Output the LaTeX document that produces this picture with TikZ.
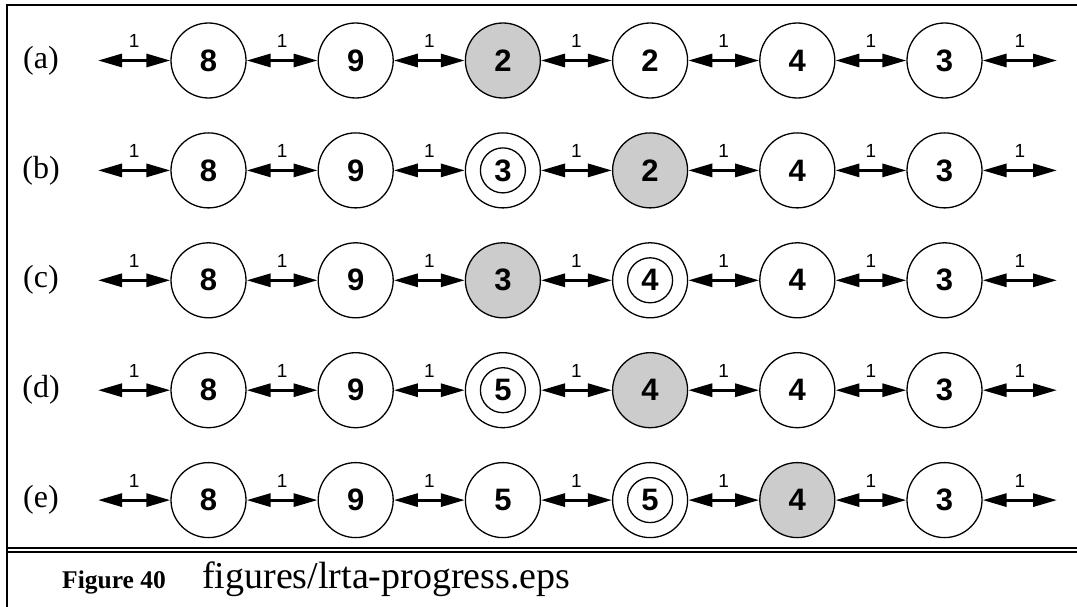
\documentclass[tikz,border=0pt]{standalone}
\usepackage{fontspec}
\setmainfont{Liberation Serif}
\setsansfont{Liberation Sans}
\usetikzlibrary{arrows.meta}
\definecolor{shade}{gray}{0.8}
\tikzset{
  x=1pt,y=-1pt,
  state/.style={circle, draw, line width=1.3pt, minimum size=75pt, inner sep=0pt,
    font=\sffamily\bfseries\fontsize{31}{31}\selectfont},
  kindn/.style={fill=white},
  kindg/.style={fill=shade},
  kindr/.style={fill=white, path picture={\draw[line width=1.3pt] (path picture bounding box.center) circle (22.5pt);}},
  link/.style={line width=3pt, {Triangle[length=24pt,width=13pt]}-{Triangle[length=24pt,width=13pt]}},
  cost/.style={font=\sffamily\fontsize{19}{19}\selectfont, inner sep=0pt, above=11pt, midway},
  rowlab/.style={font=\fontsize{32}{32}\selectfont, inner sep=0pt},
  frame/.style={line width=2pt},
  sep/.style={line width=2.2pt}
}
\begin{document}
\begin{tikzpicture}
\useasboundingbox (0,0) rectangle (1077,607);
\foreach \lab/\row [count=\r from 0] in {
  a/{8/n,9/n,2/g,2/n,4/n,3/n},
  b/{8/n,9/n,3/r,2/g,4/n,3/n},
  c/{8/n,9/n,3/g,4/r,4/n,3/n},
  d/{8/n,9/n,5/r,4/g,4/n,3/n},
  e/{8/n,9/n,5/n,5/r,4/g,3/n}} {
  \pgfmathsetmacro\yy{60.5+109.9*\r}
  \node[rowlab] (lab\r) at (41,\yy) {(\lab)};
  \coordinate (L\r) at (98,\yy);
  \coordinate (R\r) at (1057,\yy);
  \foreach \v/\s [count=\c from 0] in \row {
    \node[state, kind\s] (c\r-\c) at ({208.5+147.2*\c},\yy) {\v};
  }
  \draw[link] (L\r) -- node[cost]{1} (c\r-0);
  \foreach \c in {1,...,5} {
    \pgfmathtruncatemacro\p{\c-1}
    \draw[link] (c\r-\p) -- node[cost]{1} (c\r-\c);
  }
  \draw[link] (c\r-5) -- node[cost]{1} (R\r);
}
\coordinate (tr) at (1077,5);
\coordinate (tl) at (7,5);
\coordinate (bl) at (7,607);
\draw[frame] (tr) -- (tl) -- (bl);
\coordinate (s1l) at (7,547.7);
\coordinate (s1r) at (1077,547.7);
\coordinate (s2l) at (7,551.9);
\coordinate (s2r) at (1077,551.9);
\draw[sep] (s1l) -- (s1r);
\draw[sep] (s2l) -- (s2r);
\node[anchor=base west, inner sep=0pt, font=\bfseries\fontsize{25.5}{25.5}\selectfont] (figno) at (62,588) {Figure 40};
\node[anchor=base west, inner sep=0pt, font=\fontsize{38}{38}\selectfont] (fname) at (202,588) {figures/lrta-progress.eps};
\end{tikzpicture}
\end{document}
